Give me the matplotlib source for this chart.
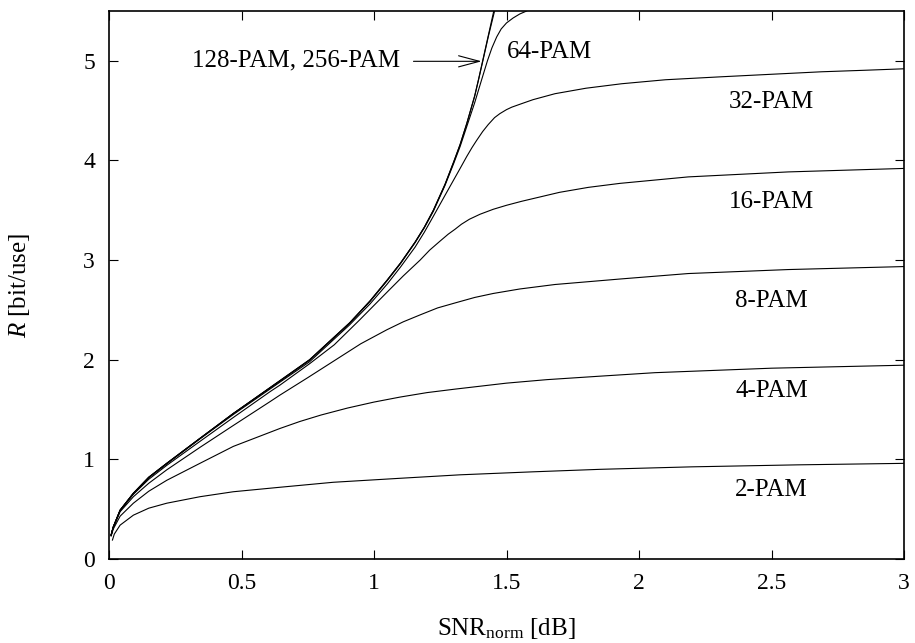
import matplotlib
matplotlib.use("Agg")
import matplotlib.pyplot as plt

# Achievable rate of uniform M-PAM versus normalized SNR
x_2pam = [0.013, 0.02, 0.042, 0.092, 0.15, 0.218, 0.343, 0.469, 0.645, 0.846, 1.098, 1.325, 1.6, 1.853, 2.2, 2.6, 3.0]
y_2pam = [0.19, 0.25, 0.34, 0.44, 0.51, 0.56, 0.625, 0.675, 0.72, 0.77, 0.81, 0.845, 0.875, 0.90, 0.925, 0.945, 0.96]

x_4pam = [0.008, 0.016, 0.042, 0.092, 0.15, 0.218, 0.343, 0.469, 0.645, 0.72, 0.8, 0.9, 1.0, 1.098, 1.2, 1.306, 1.5, 1.652, 1.853, 2.06, 2.5, 3.0]
y_4pam = [0.23, 0.30, 0.43, 0.56, 0.68, 0.79, 0.96, 1.13, 1.31, 1.38, 1.445, 1.515, 1.575, 1.625, 1.67, 1.705, 1.765, 1.80, 1.835, 1.87, 1.915, 1.945]

x_8pam = [0.008, 0.016, 0.042, 0.092, 0.15, 0.218, 0.343, 0.469, 0.608, 0.645, 0.75, 0.85, 0.95, 1.048, 1.11, 1.174, 1.24, 1.306, 1.38, 1.45, 1.55, 1.683, 1.928, 2.186, 2.563, 3.0]
y_8pam = [0.24, 0.315, 0.475, 0.625, 0.76, 0.895, 1.12, 1.34, 1.58, 1.645, 1.82, 1.99, 2.16, 2.30, 2.38, 2.45, 2.52, 2.57, 2.625, 2.665, 2.71, 2.755, 2.81, 2.865, 2.905, 2.935]

x_16pam = [0.008, 0.016, 0.042, 0.092, 0.15, 0.218, 0.343, 0.469, 0.608, 0.645, 0.757, 0.85, 0.946, 1.05, 1.11, 1.174, 1.21, 1.249, 1.28, 1.306, 1.33, 1.36, 1.40, 1.45, 1.50, 1.557, 1.70, 1.809, 1.928, 2.186, 2.563, 3.0]
y_16pam = [0.24, 0.32, 0.485, 0.65, 0.80, 0.94, 1.18, 1.42, 1.68, 1.745, 1.96, 2.15, 2.40, 2.68, 2.84, 3.0, 3.1, 3.19, 3.26, 3.31, 3.36, 3.41, 3.46, 3.51, 3.55, 3.59, 3.68, 3.73, 3.77, 3.835, 3.885, 3.92]

x_32pam = [0.008, 0.016, 0.042, 0.092, 0.15, 0.218, 0.343, 0.469, 0.645, 0.757, 0.859, 0.908, 0.985, 1.05, 1.10, 1.155, 1.19, 1.224, 1.268, 1.306, 1.325, 1.35, 1.37, 1.387, 1.41, 1.431, 1.455, 1.475, 1.50, 1.52, 1.557, 1.60, 1.683, 1.8, 1.935, 2.1, 2.312, 2.5, 2.689, 2.85, 3.0]
y_32pam = [0.24, 0.32, 0.49, 0.655, 0.815, 0.955, 1.205, 1.45, 1.775, 1.98, 2.23, 2.35, 2.56, 2.76, 2.93, 3.13, 3.28, 3.44, 3.65, 3.83, 3.92, 4.04, 4.13, 4.20, 4.29, 4.36, 4.43, 4.47, 4.51, 4.535, 4.57, 4.61, 4.67, 4.725, 4.77, 4.81, 4.84, 4.865, 4.89, 4.905, 4.92]

x_64pam = [0.008, 0.016, 0.042, 0.092, 0.15, 0.218, 0.343, 0.469, 0.645, 0.757, 0.859, 0.908, 0.985, 1.05, 1.10, 1.155, 1.19, 1.224, 1.268, 1.30, 1.325, 1.35, 1.38, 1.405, 1.428, 1.445, 1.463, 1.48, 1.50, 1.525, 1.55, 1.576]
y_64pam = [0.24, 0.32, 0.49, 0.66, 0.82, 0.96, 1.21, 1.46, 1.785, 1.995, 2.245, 2.365, 2.585, 2.795, 2.965, 3.175, 3.325, 3.49, 3.75, 3.965, 4.14, 4.34, 4.58, 4.80, 5.0, 5.13, 5.24, 5.32, 5.38, 5.43, 5.47, 5.5]

x_128pam = [0.008, 0.016, 0.042, 0.092, 0.15, 0.218, 0.343, 0.469, 0.645, 0.757, 0.859, 0.908, 0.985, 1.05, 1.10, 1.155, 1.19, 1.224, 1.268, 1.30, 1.325, 1.35, 1.38, 1.395, 1.41, 1.432, 1.455]
y_128pam = [0.24, 0.32, 0.49, 0.66, 0.82, 0.96, 1.21, 1.46, 1.79, 2.0, 2.25, 2.37, 2.59, 2.80, 2.97, 3.18, 3.33, 3.50, 3.76, 3.98, 4.16, 4.37, 4.645, 4.815, 4.99, 5.25, 5.5]

x_256pam = [0.008, 0.016, 0.042, 0.092, 0.15, 0.218, 0.343, 0.469, 0.645, 0.757, 0.859, 0.908, 0.985, 1.05, 1.10, 1.155, 1.19, 1.224, 1.268, 1.30, 1.325, 1.35, 1.38, 1.395, 1.41, 1.431, 1.452]
y_256pam = [0.24, 0.32, 0.49, 0.66, 0.82, 0.96, 1.21, 1.46, 1.79, 2.0, 2.25, 2.37, 2.59, 2.80, 2.97, 3.18, 3.33, 3.50, 3.76, 3.98, 4.16, 4.37, 4.65, 4.82, 5.0, 5.25, 5.5]

curves = [
    (x_2pam, y_2pam), (x_4pam, y_4pam), (x_8pam, y_8pam), (x_16pam, y_16pam),
    (x_32pam, y_32pam), (x_64pam, y_64pam), (x_128pam, y_128pam), (x_256pam, y_256pam),
]

# curve labels: text, x, baseline y
label_texts = ["64-PAM", "32-PAM", "16-PAM", "8-PAM", "4-PAM", "2-PAM"]
label_x = [1.50, 2.5, 2.5, 2.5, 2.5, 2.5]
label_y = [5.03, 4.53, 3.527, 2.525, 1.622, 0.635]

x_ticks = [0, 0.5, 1, 1.5, 2, 2.5, 3]
x_tick_labels = ["0", "0.5", "1", "1.5", "2", "2.5", "3"]
y_ticks = [0, 1, 2, 3, 4, 5]

plt.rcParams["font.family"] = ["Liberation Serif", "DejaVu Serif"]
plt.rcParams["font.size"] = 18
plt.rcParams["mathtext.fontset"] = "custom"
plt.rcParams["mathtext.rm"] = "Liberation Serif"
plt.rcParams["mathtext.it"] = "Liberation Serif:italic"

fig = plt.figure(figsize=(9.15, 6.43), dpi=100)
ax = fig.add_axes([109 / 915, 84 / 643, 795 / 915, 548 / 643])

for xs, ys in curves:
    ax.plot(xs, ys, color="black", lw=0.8, solid_joinstyle="round")

ax.set_xlim(0, 3)
ax.set_ylim(0, 5.5)
ax.set_xticks(x_ticks)
ax.set_xticklabels(x_tick_labels)
ax.set_yticks(y_ticks)
ax.tick_params(direction="in", length=6.5, width=0.8, top=True, right=True,
               labelsize=17, pad=10)
for sp in ax.spines.values():
    sp.set_linewidth(1.2)

for t, lx, ly in zip(label_texts, label_x, label_y):
    ax.text(lx, ly, t, ha="left" if t == "64-PAM" else "center", va="baseline", fontsize=18)

ax.text(1.098, 4.94, "128-PAM, 256-PAM", ha="right", va="baseline", fontsize=18)
ax.annotate("", xy=(1.406, 4.995), xytext=(1.149, 4.995),
            arrowprops=dict(arrowstyle="->,head_length=0.75,head_width=0.2",
                            lw=0.8, color="black", shrinkA=0, shrinkB=0,
                            mutation_scale=20))

ax.set_xlabel(r"SNR$_{\mathrm{norm}}$ [dB]", fontsize=18)
ax.set_ylabel(r"$R$ [bit/use]", fontsize=18)
ax.xaxis.set_label_coords(0.5, -0.104)
ax.yaxis.set_label_coords(-0.097, 0.5)

fig.savefig("out.png", dpi=100)
